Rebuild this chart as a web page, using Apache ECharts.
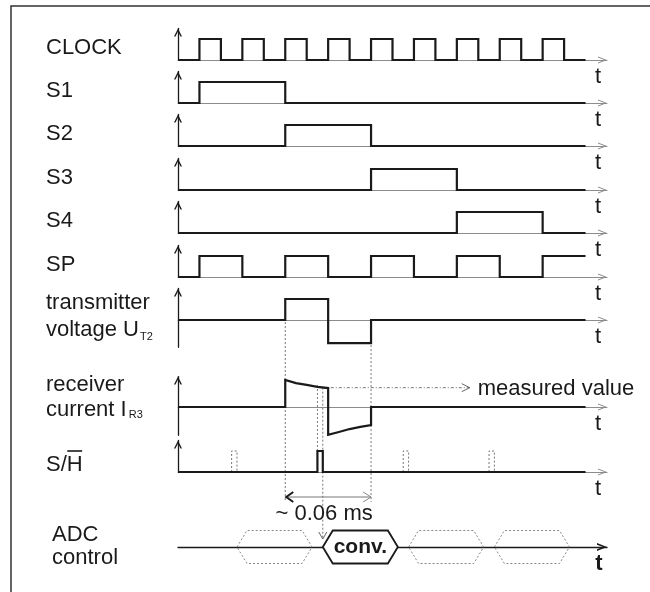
<!DOCTYPE html>
<html><head><meta charset="utf-8">
<script src="https://cdn.jsdelivr.net/npm/echarts@6/dist/echarts.min.js"></script>
<style>html,body{margin:0;padding:0;background:#fff}#c{width:650px;height:592px}</style>
</head><body><div id="c"></div>
<script>
// ---------- data (time in half clock periods) ----------
const clock = [[0,0],[1,1],[2,0],[3,1],[4,0],[5,1],[6,0],[7,1],[8,0],[9,1],[10,0],[11,1],[12,0],[13,1],[14,0],[15,1],[16,0],[17,1],[18,0],[19,0]];
const s1 = [[0,0],[1,1],[5,0],[19,0]];
const s2 = [[0,0],[5,1],[9,0],[19,0]];
const s3 = [[0,0],[9,1],[13,0],[19,0]];
const s4 = [[0,0],[13,1],[17,0],[19,0]];
const sp = [[0,0],[1,1],[3,0],[5,1],[7,0],[9,1],[11,0],[13,1],[15,0],[17,1],[19,1]];
const ut2 = [[0,0],[5,1],[7,-1.1],[9,0],[19,0]];
const ir3 = [[0,0],[5,0],[5,1.29],[5.5,1.14],[6,1.05],[6.5,0.96],[7,0.9],[7,-1.33],[7.5,-1.19],[8,-1.05],[8.5,-0.95],[9,-0.86],[9,0],[19,0]];
const sh = [[0,0],[6.5,1],[6.75,0],[19,0]];
const shGhost = [[2.5,2.75],[10.5,10.75],[14.5,14.75]];
const adcStart = [2.75,6.75,10.75,14.75];
const adcEnd = [6.25,10.25,14.25,18.25];
const adcText = ['','conv.','',''];
const adcActive = [0,1,0,0];
const laneNames = ['CLOCK','S1','S2','S3','S4','SP'];
const dimFrom = 5, dimTo = 9, dimText = '~ 0.06 ms';
const measuredT = 6.75, measuredV = 0.92, measuredTo = 13.6, measuredText = 'measured value';
const sampleT = [6.5, 6.75];

// ---------- layout ----------
const F = "'Liberation Sans', Arial, Helvetica, sans-serif";
const FS = 22;
const INK = '#1a1a1a';
const lanes = [
  {data:clock, base:60, lo:0, hi:1.5, step:'end'},
  {data:s1, base:103, lo:0, hi:1.5, step:'end'},
  {data:s2, base:146, lo:0, hi:1.5, step:'end'},
  {data:s3, base:190, lo:0, hi:1.5, step:'end'},
  {data:s4, base:233, lo:0, hi:1.5, step:'end'},
  {data:sp, base:277, lo:0, hi:1.5, step:'end'},
  {data:ut2, base:320, lo:-1.3, hi:1.5, step:'end'},
  {data:ir3, base:407, lo:-1.35, hi:1.45, step:false},
  {data:sh, base:472, lo:0, hi:1.5, step:'end'},
  {data:null, base:547, lo:-1, hi:1, px:16.5, adc:true}
];
const PX = 21;
const CHEV_X = 'path://M0,9L3.5,0L7,9L6,9L3.5,2.6L1,9Z';
const CHEV_XB = 'path://M0,10L4,0L8,10L6.2,10L4,4L1.8,10Z';
const CHEV_Y = 'path://M0,8L4,0L8,8L6.5,8L4,3L1.5,8Z';

const grids = [], xAxes = [], yAxes = [], series = [];
lanes.forEach((L, i) => {
  const px = L.px || PX;
  grids.push({left:178, width:429, top:L.base - L.hi*px, height:(L.hi-L.lo)*px, containLabel:false, outerBoundsMode:'none'});
  xAxes.push({gridIndex:i, type:'value', min:0, max:20,
    axisLine:{show:true, onZero:true, lineStyle:{color: L.adc ? INK : '#8c8c8c', width: L.adc ? 1.4 : 1},
      symbol:['none', L.adc ? CHEV_XB : CHEV_X], symbolSize: L.adc ? [8,10] : [7,9], symbolOffset: L.adc ? [0,-5] : [0,-4.5]},
    axisTick:{show:false}, axisLabel:{show:false}, splitLine:{show:false}});
  yAxes.push({gridIndex:i, type:'value', min:L.lo, max:L.hi, show: !L.adc,
    axisLine:{show:true, onZero:false, lineStyle:{color:INK, width:1.3},
      symbol:['none', CHEV_Y], symbolSize:[8,8], symbolOffset:[0,-4]},
    axisTick:{show:false}, axisLabel:{show:false}, splitLine:{show:false}});
  if (L.data) {
    series.push({type:'line', xAxisIndex:i, yAxisIndex:i, data:L.data, step:L.step,
      symbol:'none', showSymbol:false, z:5, lineStyle:{color:INK, width:2.2, join:'miter'}});
  }
});
const shIdx = 8, irIdx = 7, utIdx = 6, adcIdx = 9;
shGhost.forEach(p => {
  series.push({type:'line', xAxisIndex:shIdx, yAxisIndex:shIdx, symbol:'none', z:3,
    data:[[p[0],0],[p[0],1],[p[1],1],[p[1],0]],
    lineStyle:{color:'#777', width:1, type:[2,2]}});
});
series.push({type:'custom', xAxisIndex:adcIdx, yAxisIndex:adcIdx, z:6,
  data: adcStart.map((s,i)=>[s, adcEnd[i], adcActive[i], i]),
  encode:{x:[0,1]},
  renderItem(params, api) {
    const s = api.value(0), e = api.value(1), act = api.value(2), k = api.value(3);
    const pL = api.coord([s,0]), pR = api.coord([e,0]);
    const top = api.coord([s,1])[1], bot = api.coord([s,-1])[1];
    const sl = 10;
    const pts = [[pL[0],pL[1]],[pL[0]+sl,top],[pR[0]-sl,top],[pR[0],pR[1]],[pR[0]-sl,bot],[pL[0]+sl,bot]];
    const children = [{type:'polygon', shape:{points:pts},
      style: act ? {fill:'#fff', stroke:INK, lineWidth:1.8} : {fill:'none', stroke:'#888', lineWidth:1, lineDash:[2,2]}}];
    if (act) children.push({type:'text', x:(pL[0]+pR[0])/2, y:pL[1],
      style:{text:adcText[k], font:'bold 21px ' + F, fill:INK, align:'center', verticalAlign:'middle', textAlign:'center', textVerticalAlign:'middle'}});
    return {type:'group', children};
  }
});

const chart = echarts.init(document.getElementById('c'), null, {renderer:'canvas'});
chart.setOption({animation:false, grid:grids, xAxis:xAxes, yAxis:yAxes, series});

// ---------- annotations ----------
const P = (g, v) => chart.convertToPixel({gridIndex:g}, v);
const mctx = document.createElement('canvas').getContext('2d');
const tw = (s, size) => { mctx.font = size + 'px ' + F; return mctx.measureText(s).width; };
function T(x, y, s, size, extra) {
  extra = extra || {};
  return {type:'text', x, y, z:20, style:Object.assign({text:s, font:(extra.bold?'bold ':'') + size + 'px ' + F, fill:INK,
    align:extra.align||'left', verticalAlign:'middle', textAlign:extra.align||'left', textVerticalAlign:'middle'}, extra.style||{})};
}
const dot = {stroke:'#777', lineWidth:1, lineDash:[2,2]};
const G = [];
G.push({type:'rect', shape:{x:11, y:6, width:700, height:700}, style:{fill:'none', stroke:'#333', lineWidth:1.5}});
laneNames.forEach((n,i) => G.push(T(46, lanes[i].base - 12, n, FS)));
G.push(T(46, 303, 'transmitter', FS));
G.push(T(46, 330, 'voltage U', FS));
G.push(T(46 + tw('voltage U',FS) + 1, 337, 'T2', 11));
G.push(T(46, 385, 'receiver', FS));
G.push(T(46, 410, 'current I', FS));
G.push(T(46 + tw('current I',FS) + 2, 415, 'R3', 11));
G.push(T(46, 465, 'S/H', FS));
const hx = 46 + tw('S/',FS);
G.push({type:'line', shape:{x1:hx+0.5, y1:451, x2:hx+tw('H',FS)-0.5, y2:451}, style:{stroke:INK, lineWidth:1.6}});
G.push(T(52, 535, 'ADC', FS));
G.push(T(52, 558, 'control', FS));
lanes.forEach((L,i) => {
  if (L.adc) G.push(T(599, L.base + 17, 't', FS, {align:'center', bold:true}));
  else G.push(T(598, L.base + 17, 't', FS, {align:'center'}));
});
// vertical guides
const dimY = 497;
const a = P(utIdx, [dimFrom, 0]), b = P(utIdx, [dimTo, -1.1]);
G.push({type:'line', shape:{x1:a[0], y1:a[1]+2, x2:a[0], y2:dimY+5}, style:dot});
G.push({type:'line', shape:{x1:b[0], y1:b[1]+2, x2:b[0], y2:dimY+5}, style:dot});
const c1 = P(irIdx, [sampleT[0], 1.05]), c1b = P(shIdx, [sampleT[0], 1]);
G.push({type:'line', shape:{x1:c1[0], y1:c1[1], x2:c1[0], y2:c1b[1]}, style:dot});
const c2 = P(irIdx, [sampleT[1], measuredV]);
G.push({type:'line', shape:{x1:c2[0], y1:c2[1], x2:c2[0], y2:539}, style:dot});
G.push({type:'polyline', shape:{points:[[c2[0]-4,532],[c2[0],539],[c2[0]+4,532]]}, style:{stroke:'#666', lineWidth:1, fill:'none'}});
// measured value arrow
const m2 = P(irIdx, [measuredTo, measuredV]);
G.push({type:'line', shape:{x1:c2[0], y1:c2[1], x2:m2[0], y2:m2[1]}, style:{stroke:'#777', lineWidth:1, lineDash:[3,2,1,2]}});
G.push({type:'polyline', shape:{points:[[m2[0]-8,m2[1]-4],[m2[0],m2[1]],[m2[0]-8,m2[1]+4]]}, style:{stroke:'#666', lineWidth:1, fill:'none'}});
G.push(T(m2[0]+8, m2[1]+1, measuredText, FS));
// dimension
const d1 = P(utIdx, [dimFrom, 0])[0], d2 = P(utIdx, [dimTo, 0])[0];
G.push({type:'line', shape:{x1:d1, y1:dimY, x2:d2, y2:dimY}, style:{stroke:'#777', lineWidth:1}});
G.push({type:'polyline', shape:{points:[[d1+8,dimY-5],[d1+1,dimY],[d1+8,dimY+5]]}, style:{stroke:INK, lineWidth:2, fill:'none'}});
G.push({type:'polyline', shape:{points:[[d2-8,dimY-5],[d2,dimY],[d2-8,dimY+5]]}, style:{stroke:'#888', lineWidth:1, fill:'none'}});
G.push(T((d1+d2)/2 - 4, 514, dimText, FS, {align:'center'}));
chart.setOption({graphic:{elements:G}});
</script></body></html>
